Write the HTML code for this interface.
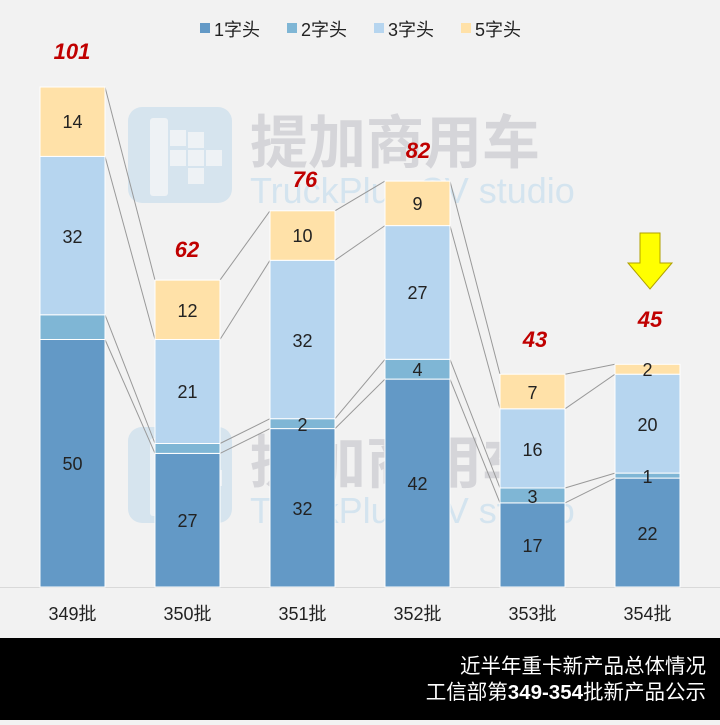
<!DOCTYPE html><html><head><meta charset="utf-8"><style>
body{margin:0;background:#f2f2f2;}
svg text{font-family:"Liberation Sans","Noto Sans CJK SC",sans-serif;}
</style></head><body>
<svg width="720" height="720" xmlns="http://www.w3.org/2000/svg">
<rect width="720" height="720" fill="#f2f2f2"/>
<g id="wm">
<rect x="128" y="107" width="104" height="96" rx="14" fill="#d6e4ee"/>
<rect x="150" y="118" width="18" height="78" rx="3" fill="#eef2f5"/>
<rect x="170" y="130" width="16" height="16" fill="#eef2f5"/><rect x="170" y="150" width="16" height="16" fill="#eef2f5"/><rect x="188" y="150" width="16" height="16" fill="#eef2f5"/><rect x="206" y="150" width="16" height="16" fill="#eef2f5"/><rect x="188" y="168" width="16" height="16" fill="#eef2f5"/><rect x="188" y="132" width="16" height="16" fill="#eef2f5"/>
<text x="250" y="163" font-size="58" font-weight="bold" fill="#d5d5d9">提加商用车</text>
<text x="250" y="203" font-size="36" fill="#d4e4ef">TruckPlus CV studio</text>
</g>
<use href="#wm" y="320"/>
<g font-size="18" fill="#222">
<rect x="200" y="23" width="10" height="10" fill="#6399c6"/><text x="214" y="36">1字头</text>
<rect x="287" y="23" width="10" height="10" fill="#7fb6d5"/><text x="301" y="36">2字头</text>
<rect x="374" y="23" width="10" height="10" fill="#b6d5ef"/><text x="388" y="36">3字头</text>
<rect x="461" y="23" width="10" height="10" fill="#ffe1a8"/><text x="475" y="36">5字头</text>
</g>
<g stroke="#999" stroke-width="1" fill="none">
<polyline points="105,339.5 155,453.4"/><polyline points="105,314.8 155,443.5"/><polyline points="105,156.4 155,339.5"/><polyline points="105,87 155,280.1"/>
<polyline points="220,453.4 270,428.6"/><polyline points="220,443.5 270,418.7"/><polyline points="220,339.5 270,260.3"/><polyline points="220,280.1 270,210.8"/>
<polyline points="335,428.6 385,379.1"/><polyline points="335,418.7 385,359.3"/><polyline points="335,260.3 385,225.6"/><polyline points="335,210.8 385,181.1"/>
<polyline points="450,379.1 500,502.9"/><polyline points="450,359.3 500,488"/><polyline points="450,225.6 500,408.8"/><polyline points="450,181.1 500,374.2"/>
<polyline points="565,502.9 615,478.1"/><polyline points="565,488 615,473.1"/><polyline points="565,408.8 615,374.2"/><polyline points="565,374.2 615,364.3"/>
</g>
<line x1="0" y1="587.5" x2="720" y2="587.5" stroke="#d9d9d9"/>
<g stroke="#fff" stroke-width="1">
<rect x="40" y="339.5" width="65" height="247.5" fill="#6399c6"/><rect x="40" y="314.8" width="65" height="24.7" fill="#7fb6d5"/><rect x="40" y="156.4" width="65" height="158.4" fill="#b6d5ef"/><rect x="40" y="87" width="65" height="69.4" fill="#ffe1a8"/>
<rect x="155" y="453.4" width="65" height="133.6" fill="#6399c6"/><rect x="155" y="443.5" width="65" height="9.9" fill="#7fb6d5"/><rect x="155" y="339.5" width="65" height="104" fill="#b6d5ef"/><rect x="155" y="280.1" width="65" height="59.4" fill="#ffe1a8"/>
<rect x="270" y="428.6" width="65" height="158.4" fill="#6399c6"/><rect x="270" y="418.7" width="65" height="9.9" fill="#7fb6d5"/><rect x="270" y="260.3" width="65" height="158.4" fill="#b6d5ef"/><rect x="270" y="210.8" width="65" height="49.5" fill="#ffe1a8"/>
<rect x="385" y="379.1" width="65" height="207.9" fill="#6399c6"/><rect x="385" y="359.3" width="65" height="19.8" fill="#7fb6d5"/><rect x="385" y="225.6" width="65" height="133.7" fill="#b6d5ef"/><rect x="385" y="181.1" width="65" height="44.5" fill="#ffe1a8"/>
<rect x="500" y="502.9" width="65" height="84.1" fill="#6399c6"/><rect x="500" y="488" width="65" height="14.9" fill="#7fb6d5"/><rect x="500" y="408.8" width="65" height="79.2" fill="#b6d5ef"/><rect x="500" y="374.2" width="65" height="34.6" fill="#ffe1a8"/>
<rect x="615" y="478.1" width="65" height="108.9" fill="#6399c6"/><rect x="615" y="473.1" width="65" height="5" fill="#7fb6d5"/><rect x="615" y="374.2" width="65" height="98.9" fill="#b6d5ef"/><rect x="615" y="364.3" width="65" height="9.9" fill="#ffe1a8"/>
</g>
<g font-size="18" fill="#222" text-anchor="middle">
<text x="72.5" y="470">50</text><text x="72.5" y="243">32</text><text x="72.5" y="128">14</text>
<text x="187.5" y="527">27</text><text x="187.5" y="398">21</text><text x="187.5" y="317">12</text>
<text x="302.5" y="515">32</text><text x="302.5" y="431">2</text><text x="302.5" y="347">32</text><text x="302.5" y="242">10</text>
<text x="417.5" y="490">42</text><text x="417.5" y="376">4</text><text x="417.5" y="299">27</text><text x="417.5" y="210">9</text>
<text x="532.5" y="552">17</text><text x="532.5" y="503">3</text><text x="532.5" y="456">16</text><text x="532.5" y="399">7</text>
<text x="647.5" y="540">22</text><text x="647.5" y="483">1</text><text x="647.5" y="431">20</text><text x="647.5" y="376">2</text>
</g>
<g font-size="22" font-weight="bold" font-style="italic" fill="#c00000" text-anchor="middle">
<text x="72" y="59">101</text><text x="187" y="257">62</text><text x="305" y="187">76</text><text x="418" y="158">82</text><text x="535" y="347">43</text><text x="650" y="327">45</text>
</g>
<polygon points="640,233 660,233 660,263 672,263 650,289 628,263 640,263" fill="#ffff00" stroke="#b0a000" stroke-width="1"/>
<g font-size="18" fill="#222" text-anchor="middle">
<text x="72.5" y="620">349批</text><text x="187.5" y="620">350批</text><text x="302.5" y="620">351批</text><text x="417.5" y="620">352批</text><text x="532.5" y="620">353批</text><text x="647.5" y="620">354批</text>
</g>
<rect x="0" y="638" width="720" height="82" fill="#000"/>
<g font-size="20.5" fill="#fff" text-anchor="end">
<text x="706" y="673">近半年重卡新产品总体情况</text>
<text x="706" y="699">工信部第<tspan font-weight="bold">349-354</tspan>批新产品公示</text>
</g>
</svg>
</body></html>
